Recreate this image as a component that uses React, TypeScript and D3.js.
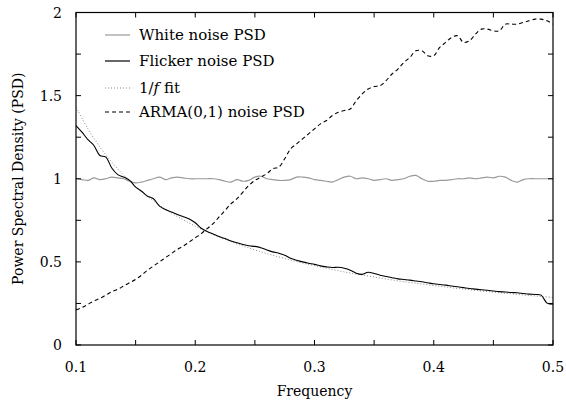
import React from "react";
import * as d3 from "d3";

const freqFine: number[] = d3.range(0, 81).map((i) => +(0.1 + i * 0.005).toFixed(3));

const whiteNoise = [
  1.0, 0.995, 0.99, 1.005, 0.995, 1.0, 1.01, 1.005, 1.0, 0.985,
  0.975, 0.98, 0.99, 1.0, 1.01, 0.995, 1.005, 1.01, 1.005, 1.0,
  1.0, 1.0, 1.0, 1.0, 0.995, 0.985, 0.98, 0.995, 0.985, 0.99,
  1.01, 1.015, 1.0, 0.995, 0.99, 0.99, 0.995, 1.01, 1.01, 1.005,
  0.995, 0.99, 0.985, 0.98, 0.995, 1.01, 1.015, 1.0, 1.005, 1.0,
  0.99, 0.995, 1.0, 0.99, 0.995, 1.0, 1.015, 1.02, 1.0, 0.985,
  0.985, 0.99, 0.99, 0.995, 1.0, 1.0, 1.005, 1.0, 1.005, 1.01,
  1.005, 1.015, 1.01, 0.99, 0.98, 0.995, 1.0, 1.0, 1.0, 1.0, 1.0,
];

const flickerNoise = [
  1.32, 1.28, 1.235, 1.2, 1.14, 1.13, 1.065, 1.025, 1.01, 0.99,
  0.95, 0.925, 0.895, 0.88, 0.835, 0.815, 0.8, 0.785, 0.772, 0.758,
  0.735, 0.702, 0.683, 0.668, 0.652, 0.64, 0.625, 0.615, 0.605, 0.597,
  0.593, 0.585, 0.572, 0.56, 0.552, 0.54, 0.522, 0.51, 0.5, 0.492,
  0.485, 0.476, 0.47, 0.466, 0.468, 0.462, 0.45, 0.432, 0.425, 0.438,
  0.43, 0.42, 0.412, 0.405, 0.398, 0.394, 0.39, 0.385, 0.38, 0.374,
  0.368, 0.364, 0.36, 0.355, 0.35, 0.345, 0.34, 0.336, 0.332, 0.329,
  0.325, 0.321, 0.319, 0.316, 0.314, 0.31, 0.306, 0.304, 0.3, 0.252, 0.245,
];

const armaNoise = [
  0.21, 0.225, 0.245, 0.265, 0.28, 0.3, 0.32, 0.335, 0.355, 0.375,
  0.395, 0.42, 0.45, 0.475, 0.5, 0.525, 0.55, 0.575, 0.595, 0.62,
  0.645, 0.67, 0.7, 0.73, 0.77, 0.81, 0.85, 0.88, 0.92, 0.96,
  0.99, 1.01, 1.03, 1.06, 1.07, 1.12, 1.18, 1.21, 1.24, 1.27,
  1.3, 1.33, 1.35, 1.38, 1.4, 1.41, 1.42, 1.47, 1.51, 1.54,
  1.555, 1.56, 1.59, 1.63, 1.66, 1.7, 1.73, 1.77, 1.77, 1.74,
  1.74, 1.79, 1.82, 1.85, 1.86, 1.82, 1.83, 1.87, 1.9, 1.9,
  1.89, 1.89, 1.93, 1.93, 1.93, 1.94, 1.95, 1.96, 1.96, 1.95, 1.93,
];

const freqFit: number[] = d3.range(0, 41).map((i) => +(0.1 + i * 0.01).toFixed(2));
const fitValues = [
  1.43, 1.3, 1.192, 1.1, 1.021, 0.953, 0.894, 0.841, 0.794, 0.753,
  0.715, 0.681, 0.65, 0.622, 0.596, 0.572, 0.55, 0.53, 0.511, 0.493,
  0.477, 0.461, 0.447, 0.433, 0.421, 0.409, 0.397, 0.386, 0.376, 0.367,
  0.358, 0.349, 0.34, 0.333, 0.325, 0.318, 0.311, 0.304, 0.298, 0.292, 0.286,
];

const xTickLabels = ["0.1", "0.2", "0.3", "0.4", "0.5"];
const yTickLabels = ["0", "0.5", "1", "1.5", "2"];

const W = 566;
const H = 403;
const M = { left: 76, right: 13, top: 12.5, bottom: 58 };
const FONT = "DejaVu Serif, Liberation Serif, serif";

export default function App() {
  const x = d3.scaleLinear().domain([0.1, 0.5]).range([M.left, W - M.right]);
  const y = d3.scaleLinear().domain([0, 2]).range([H - M.bottom, M.top]);

  const line = (xs: number[], ys: number[]) =>
    d3
      .line<number>()
      .x((_, i) => x(xs[i]))
      .y((d) => y(d))
      .curve(d3.curveCatmullRom)(ys) || "";

  const x0 = M.left;
  const x1 = W - M.right;
  const y0 = H - M.bottom;
  const y1 = M.top;
  const tl = 5;

  const xTicks = d3.range(0, 9).map((i) => 0.1 + i * 0.05);
  const yTicks = d3.range(0, 9).map((i) => i * 0.25);

  const legend = [
    { label: "White noise PSD", stroke: "#999", dash: "none", y: 35 },
    { label: "Flicker noise PSD", stroke: "#000", dash: "none", y: 61 },
    { label: "fit", stroke: "#888", dash: "1,2", y: 88 },
    { label: "ARMA(0,1) noise PSD", stroke: "#000", dash: "4,3", y: 112 },
  ];

  return (
    <svg
      width={W}
      height={H}
      style={{ position: "absolute", left: 0, top: 0, background: "#fff", fontFamily: FONT }}
    >
      <rect x={0} y={0} width={W} height={H} fill="#fff" />
      <path d={line(freqFine, whiteNoise)} fill="none" stroke="#999" strokeWidth={1.2} />
      <path d={line(freqFit, fitValues)} fill="none" stroke="#888" strokeWidth={1} strokeDasharray="1,2" />
      <path d={line(freqFine, flickerNoise)} fill="none" stroke="#000" strokeWidth={1.1} />
      <path d={line(freqFine, armaNoise)} fill="none" stroke="#000" strokeWidth={1.1} strokeDasharray="4,3" />

      <rect x={x0} y={y1} width={x1 - x0} height={y0 - y1} fill="none" stroke="#000" strokeWidth={1.2} />
      {xTicks.map((t, i) => (
        <g key={"xt" + i}>
          <line x1={x(t)} x2={x(t)} y1={y0} y2={y0 - tl} stroke="#000" />
          <line x1={x(t)} x2={x(t)} y1={y1} y2={y1 + tl} stroke="#000" />
        </g>
      ))}
      {yTicks.map((t, i) => (
        <g key={"yt" + i}>
          <line x1={x0} x2={x0 + tl} y1={y(t)} y2={y(t)} stroke="#000" />
          <line x1={x1} x2={x1 - tl} y1={y(t)} y2={y(t)} stroke="#000" />
        </g>
      ))}
      {xTickLabels.map((l, i) => (
        <text key={"xl" + i} x={x(+l)} y={372} textAnchor="middle" fontSize={14}>
          {l}
        </text>
      ))}
      {yTickLabels.map((l, i) => (
        <text key={"yl" + i} x={62} y={y(+l) + 5} textAnchor="end" fontSize={14}>
          {l}
        </text>
      ))}
      <text x={(x0 + x1) / 2} y={396} textAnchor="middle" fontSize={14}>
        Frequency
      </text>
      <text
        transform={`translate(23, ${(y0 + y1) / 2}) rotate(-90)`}
        textAnchor="middle"
        fontSize={14}
      >
        Power Spectral Density (PSD)
      </text>

      {legend.map((d, i) => (
        <g key={"lg" + i}>
          <line x1={105} x2={130} y1={d.y} y2={d.y} stroke={d.stroke} strokeWidth={1.2} strokeDasharray={d.dash} />
          <text x={139} y={d.y + 5} fontSize={15}>
            {i === 2 ? (
              <>
                1/<tspan fontStyle="italic">f</tspan> fit
              </>
            ) : (
              d.label
            )}
          </text>
        </g>
      ))}
    </svg>
  );
}
